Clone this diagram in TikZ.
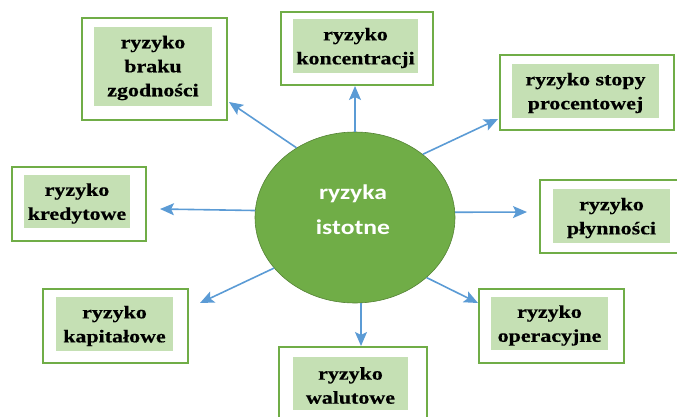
\documentclass[tikz,border=0pt]{standalone}
\usepackage{fontspec}
\setmainfont{Liberation Serif}
\newfontfamily\labfont{Liberation Serif Bold}[FakeStretch=1.22,FakeBold=0.6]
\newfontfamily\circfont{Carlito Bold}[FakeStretch=1.22]
\usetikzlibrary{shapes.geometric,arrows.meta}
\definecolor{boxgreen}{RGB}{112,173,71}
\definecolor{fillgreen}{RGB}{197,224,180}
\definecolor{circgreen}{RGB}{112,173,71}
\definecolor{circedge}{RGB}{84,130,53}
\definecolor{arrblue}{RGB}{91,155,213}
\tikzset{
  outerbox/.style={draw=boxgreen, line width=1.6pt, fill=white, rectangle, inner sep=0pt, outer sep=0pt},
  innerbox/.style={fill=fillgreen, rectangle, inner sep=0pt, outer sep=0pt},
  lab/.style={align=center, inner sep=0pt, text=black, font=\labfont\fontsize{18}{24}\selectfont},
  arr/.style={draw=arrblue, line width=1.6pt, -{Stealth[length=14pt,width=12pt,inset=3pt]}, fill=arrblue},
}
\begin{document}
\begin{tikzpicture}[x=1pt,y=-1pt]
\useasboundingbox (0,0) rectangle (677,416);
\clip (0,0) rectangle (677,416);
% central ellipse
\node[ellipse, fill=circgreen, draw=circedge, line width=0.6pt, minimum width=200pt, minimum height=171pt, inner sep=0pt] (c) at (355,217.5) {};
\node[align=center, text=white, inner sep=0pt, font=\circfont\fontsize{21}{35}\selectfont] (ctext) at (353,210) {ryzyka\\istotne};
% boxes
\node[outerbox, minimum width=145pt, minimum height=102pt] (zgod) at (154.5,69) {};
\node[innerbox, minimum width=118pt, minimum height=79pt] (zgodi) at (153,66.5) {};
\node[lab] at (153,68) {ryzyko\\braku\\zgodności};

\node[outerbox, minimum width=152pt, minimum height=73pt] (konc) at (357,48.5) {};
\node[innerbox, minimum width=125pt, minimum height=54pt] (konci) at (355.5,46) {};
\node[lab] at (355.5,48) {ryzyko\\koncentracji};

\node[outerbox, minimum width=174pt, minimum height=75pt] (stop) at (587,92.5) {};
\node[innerbox, minimum width=147pt, minimum height=54pt] (stopi) at (585.5,91) {};
\node[lab] at (585.5,93) {ryzyko stopy\\procentowej};

\node[outerbox, minimum width=140pt, minimum height=73pt] (plyn) at (610,216.5) {};
\node[innerbox, minimum width=117pt, minimum height=54pt] (plyni) at (611.5,216) {};
\node[lab] at (611.5,218) {ryzyko\\płynności};

\node[outerbox, minimum width=134pt, minimum height=74pt] (kred) at (79,204) {};
\node[innerbox, minimum width=106pt, minimum height=53pt] (kredi) at (77,201.5) {};
\node[lab] at (77,203.5) {ryzyko\\kredytowe};

\node[outerbox, minimum width=145pt, minimum height=74pt] (kapit) at (115.5,326) {};
\node[innerbox, minimum width=117pt, minimum height=54pt] (kapiti) at (114.5,324) {};
\node[lab] at (114.5,326) {ryzyko\\kapitałowe};

\node[outerbox, minimum width=145pt, minimum height=74pt] (oper) at (551.5,326) {};
\node[innerbox, minimum width=117pt, minimum height=53pt] (operi) at (549.5,323.5) {};
\node[lab] at (549.5,325.5) {ryzyko\\operacyjne};

\node[outerbox, minimum width=148pt, minimum height=90pt] (walut) at (353,392) {};
\node[innerbox, minimum width=115pt, minimum height=53pt] (waluti) at (350.5,383.5) {};
\node[lab] at (350.5,385.5) {ryzyko\\walutowe};

% arrow tips
\coordinate (tzgod) at (229,102);
\coordinate (tkonc) at (355,86);
\coordinate (tstop) at (498,119);
\coordinate (tplyn) at (527,212);
\coordinate (tkred) at (160,209);
\coordinate (tkapit) at (200,303);
\coordinate (toper) at (478,303);
\coordinate (twalut) at (361,346);
% arrows
\draw[arr] (c.130) -- (tzgod);
\draw[arr] (c.90) -- (tkonc);
\draw[arr] (c.43.5) -- (tstop);
\draw[arr] (c.3) -- (tplyn);
\draw[arr] (c.176) -- (tkred);
\draw[arr] (c.212) -- (tkapit);
\draw[arr] (c.-40) -- (toper);
\draw[arr] (c.-86) -- (twalut);
\end{tikzpicture}
\end{document}
